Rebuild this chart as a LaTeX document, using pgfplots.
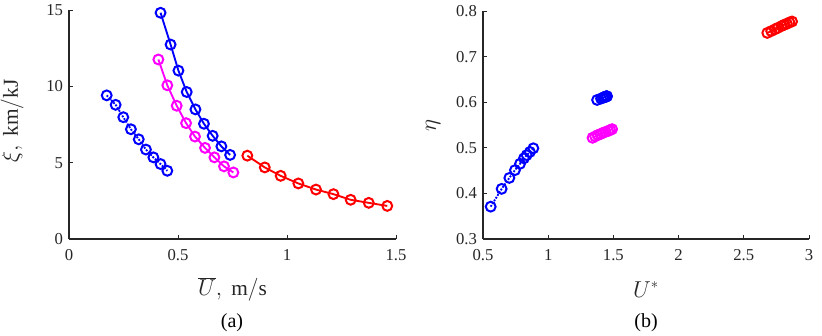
\documentclass[border=0pt]{standalone}
\usepackage{fontspec}
\setmainfont{Liberation Serif}
\usepackage{pgfplots}
\pgfplotsset{compat=1.18}
\definecolor{axgray}{RGB}{38,38,38}
\definecolor{mblue}{RGB}{0,0,255}
\definecolor{mmag}{RGB}{255,0,255}
\definecolor{mred}{RGB}{255,0,0}

\pgfplotsset{
  panel/.style={
    scale only axis,
    anchor=south west,
    axis lines*=left,
    axis line style={axgray,line width=0.8pt,-},
    every tick/.style={axgray,line width=0.6pt},
    tick align=inside,
    major tick length=3pt,
    tick label style={font=\fontsize{12.5}{14}\selectfont\rmfamily,text=axgray},
    xticklabel style={yshift=-4pt},
    yticklabel style={xshift=-1pt},
    label style={font=\fontsize{16}{19}\selectfont,text=axgray,inner sep=0pt},
    clip=false
  },
  ser/.style={line width=1.4pt,mark=o,mark size=3.7pt,
    mark options={line width=1.5pt,solid}}
}

\begin{document}
\begin{tikzpicture}
\path (0,0) rectangle (616.5pt,250.5pt);

% (a)
\begin{axis}[panel,
  at={(51.75pt,72pt)}, width=245.25pt, height=171.75pt,
  xmin=0, xmax=1.5, ymin=0, ymax=15,
  xtick={0,0.5,1,1.5}, ytick={0,5,10,15},
  xticklabels={0,0.5,1,1.5}, yticklabels={0,5,10,15},
  xlabel={$\overline{U},\ \mathrm{m/s}$},
  ylabel={$\xi,\ \mathrm{km/kJ}$},
  xlabel style={at={(axis description cs:0.5,-0.22)},anchor=center},
  ylabel style={at={(axis description cs:-0.174,0.515)},anchor=center,rotate=0}
]
\addplot[ser,mblue,densely dotted] coordinates {
(0.173,9.41)(0.214,8.79)(0.249,7.98)(0.284,7.19)(0.320,6.53)
(0.353,5.86)(0.387,5.35)(0.420,4.91)(0.451,4.47)};
\addplot[ser,mblue] coordinates {
(0.420,14.82)(0.466,12.74)(0.502,11.03)(0.540,9.63)(0.580,8.49)
(0.619,7.55)(0.659,6.76)(0.699,6.07)(0.739,5.51)};
\addplot[ser,mmag] coordinates {
(0.410,11.76)(0.451,10.07)(0.494,8.73)(0.537,7.59)(0.578,6.71)
(0.624,5.97)(0.667,5.35)(0.711,4.76)(0.754,4.36)};
\addplot[ser,mred] coordinates {
(0.818,5.46)(0.898,4.69)(0.971,4.14)(1.052,3.64)(1.133,3.24)
(1.213,2.94)(1.292,2.57)(1.375,2.37)(1.460,2.17)};
\end{axis}

% (b)
\begin{axis}[panel,
  at={(362.25pt,72pt)}, width=244.5pt, height=171pt,
  xmin=0.5, xmax=3, ymin=0.3, ymax=0.8,
  xtick={0.5,1,1.5,2,2.5,3}, ytick={0.3,0.4,0.5,0.6,0.7,0.8},
  xticklabels={0.5,1,1.5,2,2.5,3}, yticklabels={0.3,0.4,0.5,0.6,0.7,0.8},
  xlabel={$U^{*}$},
  ylabel={$\eta$},
  xlabel style={at={(axis description cs:0.5,-0.22)},anchor=center},
  ylabel style={at={(axis description cs:-0.153,0.5)},anchor=center,rotate=0}
]
\addplot[ser,mblue,densely dotted] coordinates {
(0.559,0.371)(0.643,0.410)(0.702,0.434)(0.745,0.451)(0.784,0.465)
(0.814,0.477)(0.835,0.484)(0.860,0.491)(0.886,0.499)};
\addplot[ser,mblue] coordinates {
(1.375,0.605)(1.405,0.608)(1.420,0.610)(1.430,0.611)(1.437,0.612)
(1.442,0.612)(1.446,0.613)(1.449,0.613)(1.451,0.613)};
\addplot[ser,mmag] coordinates {
(1.340,0.522)(1.360,0.525)(1.380,0.528)(1.400,0.530)(1.420,0.533)
(1.440,0.535)(1.460,0.537)(1.475,0.539)(1.490,0.541)};
\addplot[ser,mred] coordinates {
(2.680,0.752)(2.710,0.756)(2.740,0.760)(2.760,0.763)(2.790,0.767)
(2.810,0.770)(2.830,0.772)(2.850,0.775)(2.870,0.777)};
\end{axis}

\node[font=\fontsize{15}{18}\selectfont,text=black,inner sep=0pt] at (174pt,9pt) {(a)};
\node[font=\fontsize{15}{18}\selectfont,text=black,inner sep=0pt] at (484.5pt,9pt) {(b)};
\end{tikzpicture}
\end{document}
